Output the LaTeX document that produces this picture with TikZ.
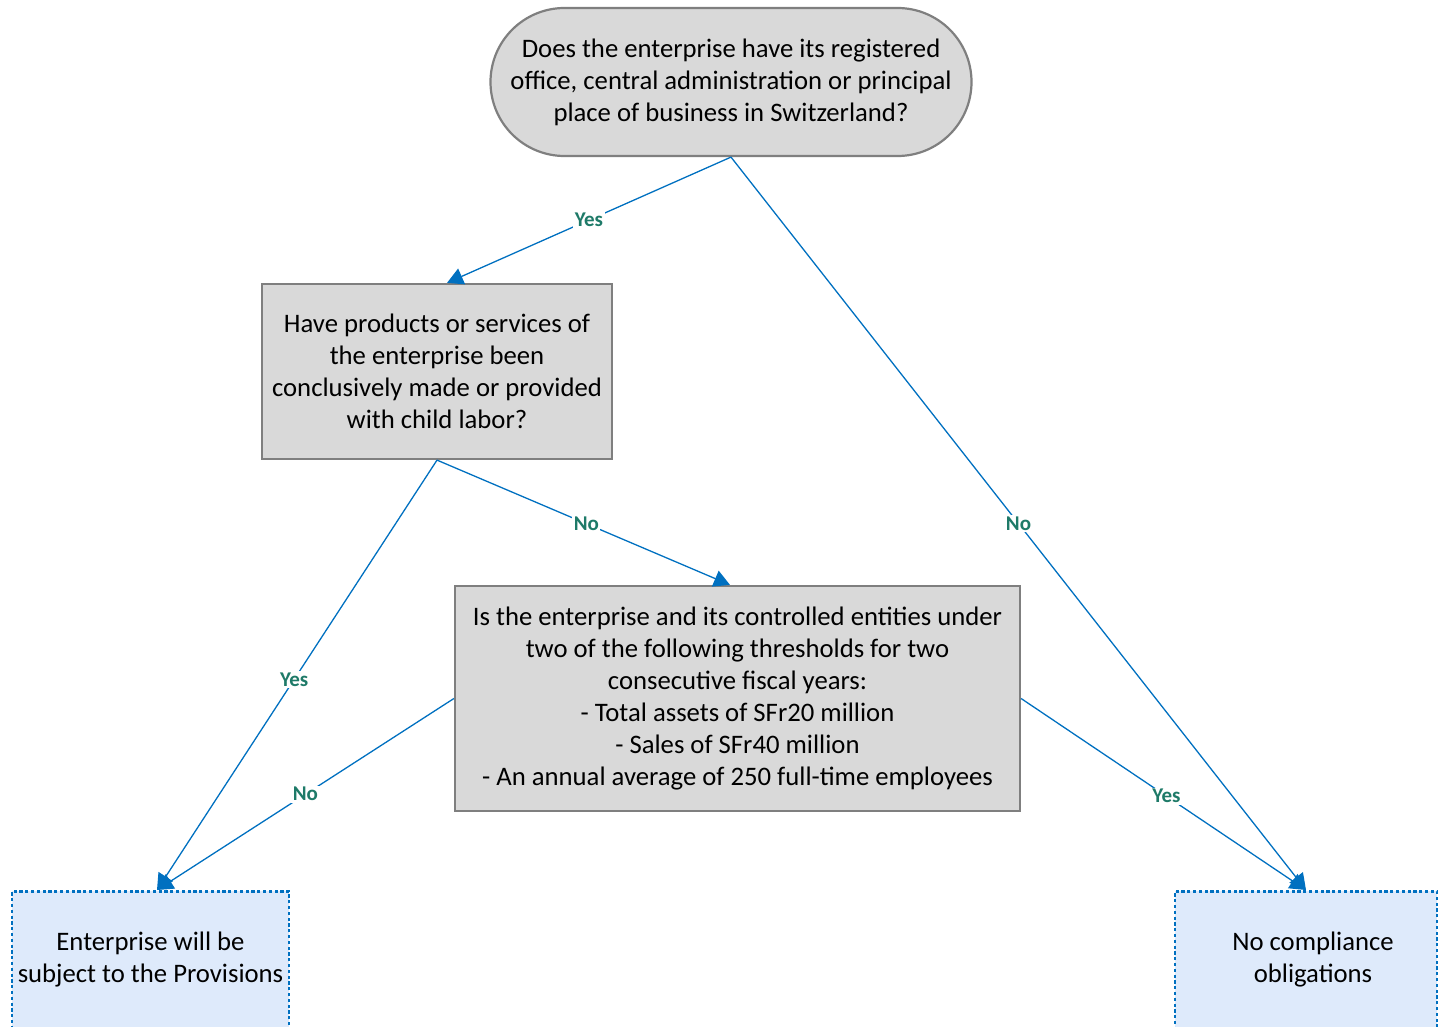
\documentclass[tikz,border=0pt]{standalone}
\usepackage{fontspec}
\setmainfont{Carlito}
\usetikzlibrary{arrows.meta,shapes.misc,positioning}
\definecolor{boxfill}{HTML}{D9D9D9}
\definecolor{boxline}{HTML}{7F7F7F}
\definecolor{endfill}{HTML}{DEEAFB}
\definecolor{flow}{HTML}{0070C0}
\definecolor{lbl}{HTML}{1E7A68}
\begin{document}
\begin{tikzpicture}[x=1pt,y=-1pt,
  textfont/.style={font=\fontsize{26.7}{32}\selectfont},
  question/.style={draw=boxline,fill=boxfill,line width=2.2pt,align=center,
    textfont,inner sep=0pt},
  outcome/.style={draw=flow,fill=endfill,line width=2.6pt,dash pattern=on 3.2pt off 2.6pt,
    inner sep=0pt},
  flowline/.style={draw=flow,line width=1.3pt,-{Triangle[length=16pt,width=17pt]}},
  answer/.style={fill=white,text=lbl,font=\fontsize{21}{23}\selectfont\bfseries,
    inner sep=1.5pt}]
\useasboundingbox (0,0) rectangle (1438,1027);
\clip (0,0) rectangle (1438,1027);

% decision nodes
\node[question,rounded rectangle,minimum width=481pt,minimum height=148pt]
  (q1) at (731,82) {Does the enterprise have its registered\\office, central administration or principal\\place of business in Switzerland?};
\node[question,rectangle,minimum width=350pt,minimum height=175pt]
  (q2) at (437,371.5) {Have products or services of\\the enterprise been\\conclusively made or provided\\with child labor?};
\node[question,rectangle,minimum width=565pt,minimum height=225pt]
  (q3) at (737.5,698.5) {Is the enterprise and its controlled entities under\\two of the following thresholds for two\\consecutive fiscal years:\\- Total assets of SFr20 million\\- Sales of SFr40 million\\- An annual average of 250 full-time employees};

% outcome boxes (run past the lower edge)
\node[outcome,rectangle,minimum width=277pt,minimum height=170pt,anchor=north]
  (r1) at (150.5,890) {};
\node[align=center,textfont] (r1t) at (150.5,960)
  {Enterprise will be\\subject to the Provisions};
\node[outcome,rectangle,minimum width=262pt,minimum height=170pt,anchor=north]
  (r2) at (1306,890) {};
\node[align=center,textfont] (r2t) at (1313,960)
  {No compliance\\obligations};

% connectors
\draw[flowline] (q1.south) -- node[answer,pos=0.5] {Yes} ([xshift=10pt]q2.north);
\draw[flowline] (q1.south) -- node[answer,pos=0.5] {No} (r2.north);
\draw[flowline] (q2.south) -- node[answer,pos=0.51] {Yes} ([xshift=6.5pt]r1.north);
\draw[flowline] (q2.south) -- node[answer,pos=0.51] {No} ([xshift=-7.5pt]q3.north);
\draw[flowline] (q3.west) -- node[answer,pos=0.5] {No} ([xshift=6.5pt]r1.north);
\draw[flowline] (q3.east) -- node[answer,pos=0.51] {Yes} (r2.north);
\end{tikzpicture}
\end{document}
